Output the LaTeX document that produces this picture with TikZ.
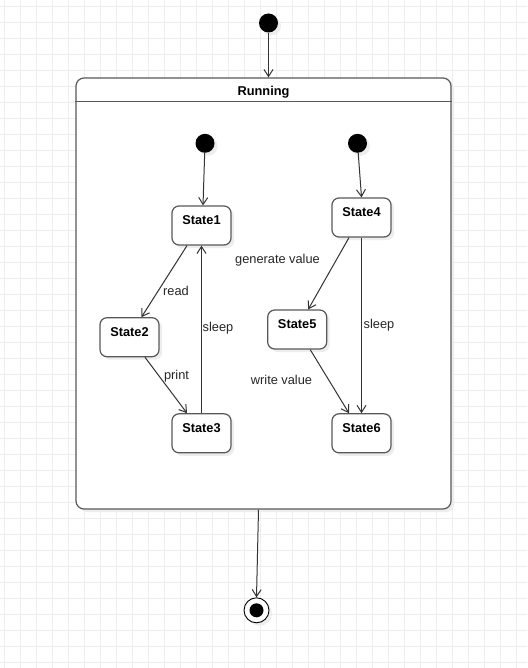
\documentclass[tikz,border=0pt]{standalone}
\usepackage{fontspec}
\setmainfont{Liberation Sans}
\usepackage{tikz}
\usetikzlibrary{positioning,calc,arrows.meta,shadows}

\tikzset{
  gridline/.style={draw=black!7, line width=0.8pt},
  shade3/.style={drop shadow={shadow xshift=3pt, shadow yshift=-3pt, fill=black!7, opacity=1}},
  state/.style={draw=black!65, line width=1.2pt, fill=white, rounded corners=7pt,
    minimum width=59pt, minimum height=39pt, shade3,
    label={[font=\fontsize{12.8}{14}\selectfont\bfseries, anchor=center, yshift=-14.5pt]north:#1}},
  initial/.style={circle, fill=black, minimum size=19pt, inner sep=0pt, shade3},
  final/.style={circle, draw=black, line width=0.9pt, fill=white, minimum size=25pt, inner sep=0pt, shade3,
    path picture={\fill[black] (path picture bounding box.center) circle[radius=7pt];}},
  trans/.style={draw=black!80, line width=1pt, -{Straight Barb[length=7pt,width=9pt]}},
  lbl/.style={font=\fontsize{12.8}{14}\selectfont, text=black!85, inner sep=1pt}
}

\begin{document}
\begin{tikzpicture}[x=1pt,y=-1pt]
        \useasboundingbox (0,0) rectangle (527,668);
        \fill[white] (0,0) rectangle (527,668);
        \foreach \gx in {4,20,...,516} \draw[gridline] (\gx,0) -- (\gx,668);
        \foreach \gy in {6,22,...,662} \draw[gridline] (0,\gy) -- (527,\gy);

        \node[draw=black!65, line width=1.2pt, fill=white, rounded corners=8pt, minimum width=375pt, minimum height=431pt, shade3,
              label={[font=\fontsize{12.8}{14}\selectfont\bfseries, anchor=center, yshift=-14.5pt]north:Running}] (run) at (263.5,293.5) {};
        \draw[black!65, line width=1.2pt] ([yshift=-24.5pt]run.north west) -- ([yshift=-24.5pt]run.north east);

        \node[initial] (i0) at (268.5,23) {};
        \node[initial] (i1) at (205,143.3) {};
        \node[initial] (i2) at (357.5,143.3) {};
        \node[final] (fin) at (256.5,610.3) {};

        \node[state=State1] (s1) at (201.5,225.5) {};
        \node[state=State2] (s2) at (129.5,337.2) {};
        \node[state=State3] (s3) at (201.5,433.3) {};
        \node[state=State4] (s4) at (361.5,217.5) {};
        \node[state=State5] (s5) at (297.2,329.5) {};
        \node[state=State6] (s6) at (361.5,433.3) {};

        \draw[trans] (i0) -- (i0 |- run.north);
        \draw[trans] (i1) -- ([xshift=1.5pt]s1.north);
        \draw[trans] (i2) -- (s4.north);
        \draw[trans] ([xshift=-14.5pt]s1.south) -- ([xshift=12pt]s2.north);
        \draw[trans] ([xshift=15.5pt]s2.south) -- ([xshift=-14.5pt]s3.north);
        \draw[trans] (s3.north) -- (s1.south);
        \draw[trans] ([xshift=-12.5pt]s4.south) -- ([xshift=11pt]s5.north);
        \draw[trans] (s4.south) -- (s6.north);
        \draw[trans] ([xshift=13pt]s5.south) -- ([xshift=-12.5pt]s6.north);
        \draw[trans] ([xshift=-5pt]run.south) -- (fin.north);

        \node[lbl] (lread) at (176,290.5) {read};
        \node[lbl] (lprint) at (176.5,376.5) {print};
        \node[lbl] (lsleepa) at (218,328) {sleep};
        \node[lbl] (lgen) at (277.5,260) {generate value};
        \node[lbl] (lsleepb) at (379,325.5) {sleep};
        \node[lbl] (lwrite) at (281.5,379.5) {write value};
    \end{tikzpicture}
\end{document}
